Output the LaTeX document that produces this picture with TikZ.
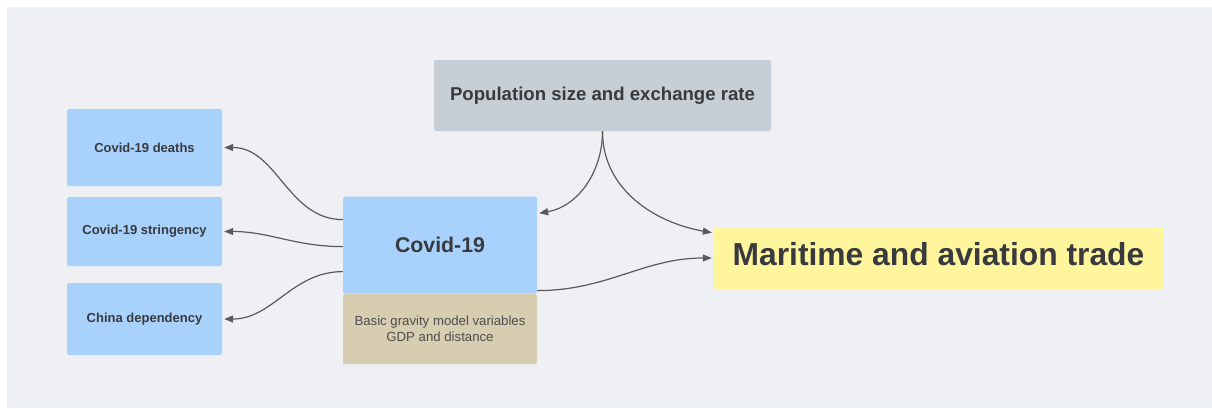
\documentclass[tikz,border=0pt]{standalone}
\usepackage{fontspec}
\setmainfont{Liberation Sans}
\usetikzlibrary{positioning}
\usetikzlibrary{arrows.meta}
\definecolor{bgcol}{HTML}{EFF0F4}
\definecolor{boxblue}{HTML}{A8D1FC}
\definecolor{boxgray}{HTML}{C8CED6}
\definecolor{boxtan}{HTML}{D7CDB1}
\definecolor{boxyellow}{HTML}{FFF59D}
\definecolor{textgray}{HTML}{383A3E}
\definecolor{tantext}{HTML}{4E4E4E}
\definecolor{arrowgray}{HTML}{5A5A5A}
\tikzstyle{box}=[rounded corners=2pt,inner sep=0pt,text=textgray]
\tikzstyle{smallbox}=[box,fill=boxblue,minimum width=155pt,font=\fontsize{13}{15}\selectfont\bfseries]
\tikzstyle{flowedge}=[draw,line width=1.2pt,arrowgray,-{Triangle[length=9pt,width=7pt]},shorten >=2pt]

\begin{document}
\begin{tikzpicture}[x=1pt,y=1pt]
    % background
    \useasboundingbox (0,0) rectangle (1212,-408);
    \fill[bgcol] (7,-7) rectangle (1212,-408);

    % outcome boxes on the left
    \foreach \pos/\name/\h/\label in {{(144.5,-147.5)/deaths/77/Covid-19 deaths}, {(144.5,-231.5)/stringency/69/Covid-19 stringency}, {(144.5,-319)/china/72/China dependency}}
        \node[smallbox, minimum height=\h pt] (\name) at \pos {\label};

    % the covid block
    \node[box, fill=boxtan, minimum width=194pt, minimum height=70pt, align=center, text=tantext, font=\fontsize{13.2}{16}\selectfont] (gravity) at (440,-329) {Basic gravity model variables\\GDP and distance};
    \node[box, fill=boxblue, minimum width=194pt, minimum height=97pt, above=0pt of gravity, font=\fontsize{21.3}{25}\selectfont\bfseries] (covid) {Covid-19};

    \node[box, fill=boxgray, minimum width=337pt, minimum height=71pt, text depth=4pt, font=\fontsize{18.6}{22}\selectfont\bfseries] (population) at (602.5,-95.5) {Population size and exchange rate};
    \node[box, fill=boxyellow, minimum width=449pt, minimum height=62pt, text depth=9pt, font=\fontsize{31.8}{36}\selectfont\bfseries] (trade) at (938.5,-258) {Maritime and aviation trade};

    % connectors
    \path[flowedge] ([yshift=25.5pt]covid.west) to[out=180,in=0] (deaths.east);
    \path[flowedge] ([yshift=-1.5pt]covid.west) to[out=180,in=0] (stringency.east);
    \path[flowedge] ([yshift=-26.5pt]covid.west) to[out=180,in=0] (china.east);
    \path[flowedge] (population.south) to[out=-90,in=10] ([yshift=31.5pt]covid.east);
    \path[flowedge] (population.south) to[out=-90,in=170] ([yshift=25pt]trade.west);
    \path[flowedge] ([yshift=-45.5pt]covid.east) to[out=0,in=180] (trade.west);
\end{tikzpicture}
\end{document}
